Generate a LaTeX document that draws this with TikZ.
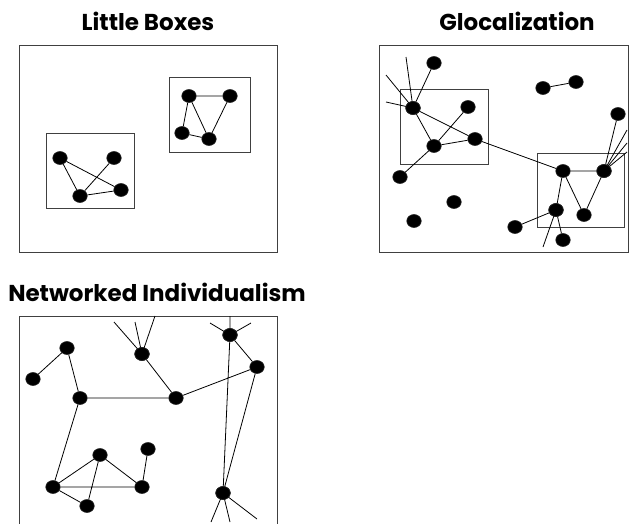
\documentclass[tikz,border=0pt]{standalone}
\usepackage{fontspec}
\setmainfont{Poppins}
\usetikzlibrary{shapes.geometric}
\begin{document}
\begin{tikzpicture}[x=1pt,y=-1pt,
  dot/.style={ellipse,fill=black,draw=black!85,line width=0.6pt,minimum width=14.5pt,minimum height=13pt,inner sep=0pt},
  link/.style={line width=0.8pt,black},
  frame/.style={line width=0.9pt,black!75},
  ttl/.style={font=\fontsize{23}{26}\selectfont\bfseries,inner sep=0pt}]
\useasboundingbox (0,0) rectangle (629,523);
% titles
\node[ttl] (t1) at (148,21) {Little Boxes};
\node[ttl] (t2) at (517,21) {Glocalization};
\node[ttl] (t3) at (157,292) {Networked Individualism};
% ---------- Little Boxes ----------
\draw[frame] (19,45) rectangle (277,252);
\draw[frame] (169,77) rectangle (250,152);
\draw[frame] (46,133) rectangle (134,208);
\node[dot] (a1) at (189,96) {};
\node[dot] (a2) at (230,96) {};
\node[dot] (a3) at (182,133) {};
\node[dot] (a4) at (209,139) {};
\node[dot] (b1) at (60,158) {};
\node[dot] (b2) at (114,158) {};
\node[dot] (b3) at (121,190) {};
\node[dot] (b4) at (80,196) {};
\draw[link] (a1)--(a2) (a1)--(a3) (a1)--(a4) (a2)--(a4) (a3)--(a4);
\draw[link] (b1)--(b4) (b1)--(b3) (b2)--(b4) (b4)--(b3);
% ---------- Glocalization ----------
\draw[frame] (379,45) rectangle (628,252);
\draw[frame] (400,89) rectangle (488,164);
\draw[frame] (537,153) rectangle (624,227);
\node[dot] (g1) at (434,63) {};
\node[dot] (g2) at (413,108) {};
\node[dot] (g3) at (468,107) {};
\node[dot] (g4) at (434,146) {};
\node[dot] (g5) at (475,139) {};
\node[dot] (g6) at (400,177) {};
\node[dot] (g7) at (454,202) {};
\node[dot] (g8) at (414,221) {};
\node[dot] (g9) at (543,88) {};
\node[dot] (g10) at (576,82) {};
\node[dot] (g11) at (618,114) {};
\node[dot] (g12) at (563,171) {};
\node[dot] (g13) at (604,171) {};
\node[dot] (g14) at (556,210) {};
\node[dot] (g15) at (584,215) {};
\node[dot] (g16) at (515,227) {};
\node[dot] (g17) at (563,240) {};
\coordinate (gd1) at (406,57);
\coordinate (gd2) at (386,75);
\coordinate (gd3) at (386,102);
\coordinate (gd4) at (627,130);
\coordinate (gd5) at (627,143);
\coordinate (gd6) at (627,152);
\coordinate (gd7) at (543,247);
\draw[link] (g1)--(g2) (g2)--(g4) (g2)--(g5) (g4)--(g3) (g4)--(g5) (g4)--(g6)
  (g5)--(g12) (g9)--(g10) (g11)--(g13) (g12)--(g13) (g12)--(g14) (g12)--(g15)
  (g13)--(g15) (g14)--(g16) (g14)--(g17);
\draw[link] (g2.center)--(gd1) (g2.center)--(gd2) (g2.center)--(gd3)
  (g13.center)--(gd4) (g13.center)--(gd5) (g13.center)--(gd6) (g14.center)--(gd7);
\node[dot] at (g2) {};
\node[dot] at (g13) {};
\node[dot] at (g14) {};
% ---------- Networked Individualism ----------
\draw[frame] (19,524)--(19,316)--(277,316)--(277,524);
\node[dot] (n1) at (67,348) {};
\node[dot] (n2) at (33,379) {};
\node[dot] (n3) at (80,398) {};
\node[dot] (n4) at (142,354) {};
\node[dot] (n5) at (176,398) {};
\node[dot] (n6) at (230,335) {};
\node[dot] (n7) at (257,367) {};
\node[dot] (n8) at (100,455) {};
\node[dot] (n9) at (148,449) {};
\node[dot] (n10) at (53,487) {};
\node[dot] (n11) at (142,487) {};
\node[dot] (n12) at (87,506) {};
\node[dot] (n13) at (223,493) {};
\coordinate (nd1) at (114,322);
\coordinate (nd2) at (135,322);
\coordinate (nd3) at (155,316);
\coordinate (nd4) at (210,323);
\coordinate (nd5) at (251,323);
\coordinate (nd6) at (230,316);
\coordinate (nd7) at (211,522);
\coordinate (nd8) at (230,522);
\coordinate (nd9) at (257,519);
\draw[link] (n1)--(n2) (n1)--(n3) (n3)--(n5) (n4)--(n5) (n5)--(n7) (n6)--(n7)
  (n3)--(n10) (n10)--(n8) (n10)--(n11) (n10)--(n12) (n8)--(n11) (n8)--(n12)
  (n9)--(n11) (n7)--(n13) (n6)--(n13);
\draw[link] (n4.center)--(nd1) (n4.center)--(nd2) (n4.center)--(nd3)
  (n6.center)--(nd4) (n6.center)--(nd5) (n6.center)--(nd6)
  (n13.center)--(nd7) (n13.center)--(nd8) (n13.center)--(nd9);
\node[dot] at (n4) {};
\node[dot] at (n6) {};
\node[dot] at (n13) {};
\end{tikzpicture}
\end{document}
